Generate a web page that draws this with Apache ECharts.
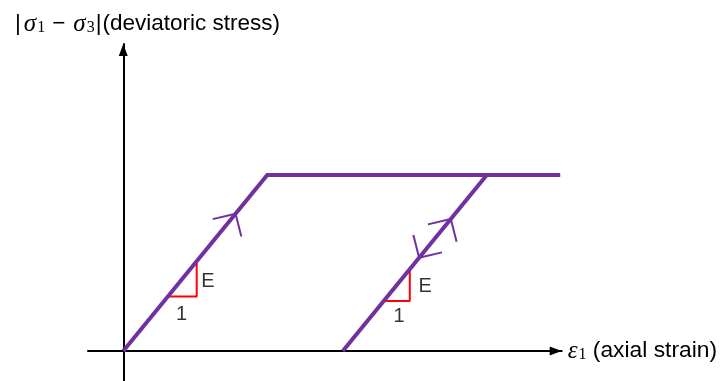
<!DOCTYPE html>
<html>
<head>
<meta charset="utf-8">
<title>Elastic-perfectly plastic stress-strain response</title>
<script src="https://cdn.jsdelivr.net/npm/echarts@6/dist/echarts.min.js"></script>
<style>
  html, body { margin: 0; padding: 0; background: #ffffff; }
  #chart { width: 720px; height: 381px; }
</style>
</head>
<body>
<div id="chart"></div>
<script>
// Idealised elastic-perfectly plastic response (strain and stress in normalised units)
var loadingPath = [[0, 0], [2, 1], [6.07, 1]];        // elastic loading, then yield plateau
var unloadingPath = [[5.05, 1], [3.05, 0]];           // elastic unloading / reloading branch
var modulusSlope = 0.5;                               // stress per unit strain on elastic branches

// direction chevrons on the elastic branches: [strain, stress, sense]
var arrowMarks = [
  [1.56, 0.78, 'up'],
  [4.55, 0.75, 'up'],
  [4.11, 0.53, 'down']
];

// slope triangles (run "1", rise "E")
var slopeTriangle1 = [[0.62, 0.31], [1.02, 0.31], [1.02, 0.51]];
var slopeTriangle2 = [[3.62, 0.285], [3.98, 0.285], [3.98, 0.465]];

// triangle labels: [strain, stress, text]
var triangleLabels = [
  [1.175, 0.395, 'E'],
  [0.81, 0.21, '1'],
  [4.195, 0.365, 'E'],
  [3.83, 0.197, '1']
];

var yTitle = '{bar||}{s|σ}{sub|1}{m|−}{s|σ}{sub|3}{bar||}(deviatoric stress)';
var xTitle = '{s|ε}{sub|1} (axial strain)';

var PURPLE = '#7030A0';
var RED = '#FF0000';
var BASE_FONT = 'Liberation Sans, Arial, sans-serif';
var MATH_FONT = 'Liberation Serif, DejaVu Serif, serif';

var richMath = {
  s: { fontFamily: MATH_FONT, fontStyle: 'italic', fontSize: 25, color: '#000', padding: [0, 1, 0, 2] },
  sub: { fontFamily: MATH_FONT, fontSize: 16, color: '#000', padding: [8, 0, 0, 0] },
  m: { fontFamily: BASE_FONT, fontSize: 22.5, color: '#000', padding: [0, 6, 0, 7] },
  bar: { fontFamily: BASE_FONT, fontSize: 22.5, color: '#000', padding: [0, 1, 0, 1] }
};

var chart = echarts.init(document.getElementById('chart'), null, { renderer: 'canvas' });

// open chevron drawn along the elastic branch, pointing in the loading sense
function chevronItem(params, api) {
  var x = api.value(0), y = api.value(1);
  var sense = arrowMarks[params.dataIndex][2] === 'up' ? 1 : -1;
  var p0 = api.coord([x, y]);
  var p1 = api.coord([x + 1, y + modulusSlope]);
  var dx = (p1[0] - p0[0]) * sense, dy = (p1[1] - p0[1]) * sense;
  var len = Math.sqrt(dx * dx + dy * dy);
  var bx = -dx / len, by = -dy / len;            // pointing back along the branch
  var tilt = -8 * Math.PI / 180, half = 45.5 * Math.PI / 180, L = 23.5;
  function rot(a) {
    return [p0[0] + L * (bx * Math.cos(a) - by * Math.sin(a)),
            p0[1] + L * (bx * Math.sin(a) + by * Math.cos(a))];
  }
  return {
    type: 'polyline',
    shape: { points: [rot(tilt + half), p0, rot(tilt - half)] },
    style: { stroke: PURPLE, lineWidth: 2, fill: null }
  };
}

var option = {
  animation: false,
  backgroundColor: '#ffffff',
  title: {
    text: yTitle,
    left: 14,
    top: 10,
    padding: 0,
    textStyle: {
      fontFamily: BASE_FONT,
      fontSize: 22.5,
      fontWeight: 'normal',
      color: '#000',
      lineHeight: 28,
      rich: richMath
    }
  },
  grid: { left: 88, right: 158, top: 44, bottom: 0, containLabel: false },
  xAxis: {
    type: 'value',
    min: -0.49,
    max: 6.09,
    name: xTitle,
    nameLocation: 'end',
    nameGap: 4,
    nameTextStyle: {
      fontFamily: BASE_FONT,
      fontSize: 22.8,
      color: '#000',
      rich: richMath
    },
    axisLine: {
      onZero: true,
      symbol: ['none', 'triangle'],
      symbolSize: [9, 12],
      symbolOffset: [0, -6],
      lineStyle: { color: '#000', width: 2 }
    },
    axisTick: { show: false },
    axisLabel: { show: false },
    splitLine: { show: false }
  },
  yAxis: {
    type: 'value',
    min: -0.17,
    max: 1.744,
    axisLine: {
      onZero: true,
      symbol: ['none', 'triangle'],
      symbolSize: [9, 12],
      symbolOffset: [0, -6],
      lineStyle: { color: '#000', width: 2 }
    },
    axisTick: { show: false },
    axisLabel: { show: false },
    splitLine: { show: false }
  },
  series: [
    {
      name: 'slope triangle 1',
      type: 'line',
      data: slopeTriangle1,
      symbol: 'none',
      lineStyle: { color: RED, width: 2 },
      z: 2
    },
    {
      name: 'slope triangle 2',
      type: 'line',
      data: slopeTriangle2,
      symbol: 'none',
      lineStyle: { color: RED, width: 2 },
      z: 2
    },
    {
      name: 'loading',
      type: 'line',
      data: loadingPath,
      symbol: 'none',
      lineStyle: { color: PURPLE, width: 4, join: 'miter' },
      z: 3
    },
    {
      name: 'unloading',
      type: 'line',
      data: unloadingPath,
      symbol: 'none',
      lineStyle: { color: PURPLE, width: 4 },
      z: 3
    },
    {
      name: 'direction',
      type: 'custom',
      data: arrowMarks.map(function (a) { return [a[0], a[1]]; }),
      renderItem: chevronItem,
      clip: false,
      z: 4
    },
    {
      name: 'labels',
      type: 'scatter',
      data: triangleLabels.map(function (t) { return [t[0], t[1]]; }),
      symbolSize: 0,
      label: {
        show: true,
        position: 'inside',
        fontFamily: BASE_FONT,
        fontSize: 20,
        color: '#000',
        formatter: function (p) { return triangleLabels[p.dataIndex][2]; }
      },
      z: 5
    }
  ]
};

chart.setOption(option);
</script>
</body>
</html>
